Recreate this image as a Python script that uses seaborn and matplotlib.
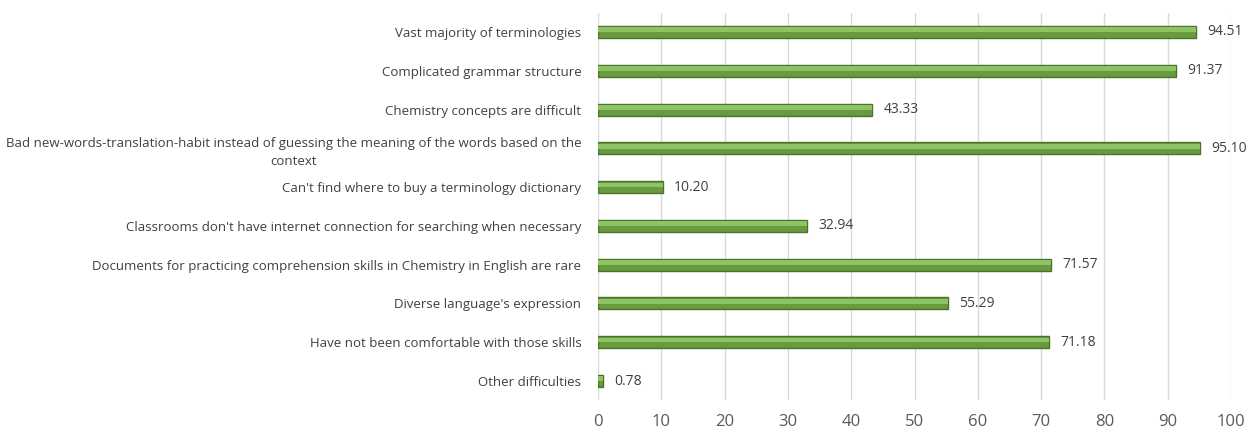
# Difficulties in reading Chemistry texts in English: share of students (%) per difficulty.
import matplotlib

matplotlib.use("Agg")
import matplotlib.pyplot as plt
import pandas as pd
import seaborn as sns

difficulties = [
    "Vast majority of terminologies",
    "Complicated grammar structure",
    "Chemistry concepts are difficult",
    "Bad new-words-translation-habit instead of guessing the meaning of the words based on the\ncontext",
    "Can't find where to buy a terminology dictionary",
    "Classrooms don't have internet connection for searching when necessary",
    "Documents for practicing comprehension skills in Chemistry in English are rare",
    "Diverse language's expression",
    "Have not been comfortable with those skills",
    "Other difficulties",
]
percent = [94.51, 91.37, 43.33, 95.10, 10.20, 32.94, 71.57, 55.29, 71.18, 0.78]
x_ticks = [0, 10, 20, 30, 40, 50, 60, 70, 80, 90, 100]

df = pd.DataFrame({"difficulty": difficulties, "percent": percent})

sns.set_theme(style="white")
plt.rcParams["font.family"] = ["Open Sans", "DejaVu Sans"]

fig = plt.figure(figsize=(12.58, 4.33), dpi=100)
ax = fig.add_axes([0.4754, 0.0753, 0.5031, 0.8957])

sns.barplot(data=df, x="percent", y="difficulty", orient="h", ax=ax,
            color="#6a9a40", edgecolor="#4a7529", linewidth=1.0, width=0.31,
            saturation=1)

# lighter upper band on each bar, for the bevelled look
for bar in list(ax.patches):
    x0, y0 = bar.get_x(), bar.get_y()
    w, h = bar.get_width(), bar.get_height()
    ax.add_patch(plt.Rectangle((x0, y0 + h * 0.12), w, h * 0.4, facecolor="#8dc366",
                               edgecolor="none", zorder=bar.get_zorder() + 0.1))

for i, v in enumerate(percent):
    ax.text(v + 1.8, i, f"{v:.2f}", va="center", ha="left",
            fontsize=10, color="#404040")

ax.set_xlim(0, 100)
ax.set_xticks(x_ticks)
ax.set_xlabel("")
ax.set_ylabel("")
ax.grid(axis="x", color="#d9d9d9", linewidth=1)
ax.set_axisbelow(True)
for s in ax.spines.values():
    s.set_visible(False)
ax.tick_params(axis="x", length=0, pad=10, labelsize=12, labelcolor="#595959")
ax.tick_params(axis="y", length=0, pad=12, labelsize=9.5, labelcolor="#404040")
for lab in ax.get_yticklabels():
    lab.set_multialignment("center")
    lab.set_linespacing(1.5)

fig.savefig("out.png", dpi=100)
